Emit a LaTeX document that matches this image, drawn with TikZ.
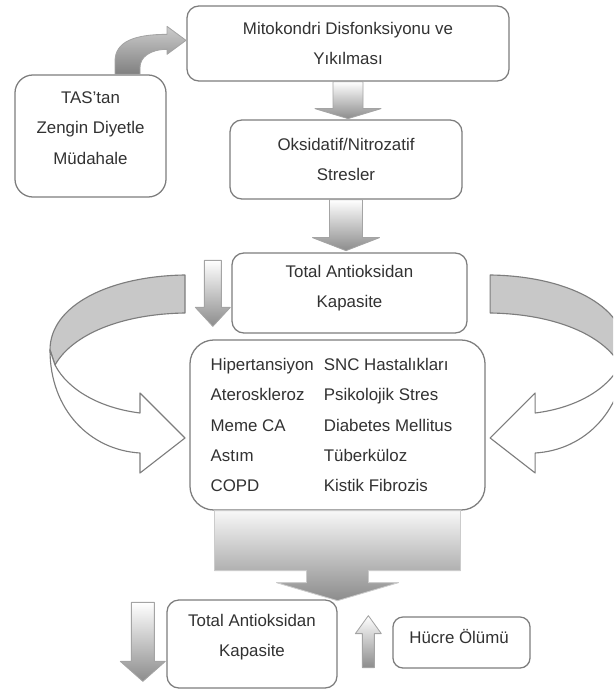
\documentclass[tikz,border=0pt]{standalone}
\usepackage{fontspec}
\setmainfont{Liberation Sans}
\usetikzlibrary{calc}
\definecolor{edgegray}{RGB}{125,125,125}
\definecolor{bandgray}{RGB}{200,200,200}
\definecolor{shadegray}{RGB}{140,140,140}
\definecolor{txtgray}{RGB}{50,50,50}
\tikzstyle{every node}=[font=\fontsize{12}{21.5}\selectfont,text=txtgray]
\tikzstyle{box}=[draw=edgegray,rounded corners=3mm,align=center,fill=white]
\tikzstyle{blockarrow}=[draw=edgegray!70,line width=0.6pt,top color=white,bottom color=shadegray]
\tikzstyle{band}=[draw=edgegray,line width=0.8pt]
\newcommand{\bendband}{%
  \draw[band,fill=bandgray] (185,275) .. controls (110,276) and (50,305) .. (50,350)
    -- (55,365) .. controls (72,335) and (120,314) .. (185,313) -- cycle;
  \draw[band,fill=white] (50,350) .. controls (50,410) and (90,450) .. (140,453)
    -- (140,473) -- (185,438) -- (140,393) -- (140,413)
    .. controls (100,408) and (68,390) .. (55,365) -- cycle;}

\begin{document}
\begin{tikzpicture}[x=0.025cm,y=-0.025cm,line width=0.9pt,line join=round]
  \clip (0,0) rectangle (613,690);
  % curved arrows round the list
  \bendband
  \begin{scope}[xshift=16.875cm,xscale=-1]
    \bendband
  \end{scope}
  % boxes
  \node[box,minimum width=80.5mm,minimum height=18.75mm] (mito) at (348,43.5) {Mitokondri Disfonksiyonu ve\\Yıkılması};
  \node[box,rounded corners=4.5mm,minimum width=37.75mm,minimum height=30.5mm,
    label={[align=center,yshift=2mm]center:TAS'tan\\Zengin Diyetle\\Müdahale}] (tas) at (90.5,136) {};
  \node[box,minimum width=58mm,minimum height=19.75mm] (oks) at (346,159.5) {Oksidatif/Nitrozatif\\Stresler};
  \node[box,minimum width=58.75mm,minimum height=20mm,
    label={[align=center,yshift=1.2mm]center:Total Antioksidan\\Kapasite}] (tac1) at (349.5,293) {};
  \node[box,rounded corners=6mm,minimum width=73.75mm,minimum height=42.5mm] (hast) at (337.5,425)
    {\begin{tabular}{@{}l@{\hspace{2.5mm}}l@{\hspace{3mm}}}
      Hipertansiyon & SNC Hastalıkları\\
      Ateroskleroz & Psikolojik Stres\\
      Meme CA & Diabetes Mellitus\\
      Astım & Tüberküloz\\
      COPD & Kistik Fibrozis
    \end{tabular}};
  \node[box,minimum width=42.5mm,minimum height=22mm,
    label={[align=center,yshift=1.75mm]center:Total Antioksidan\\Kapasite}] (tac2) at (252,644) {};
  \node[box,rounded corners=2.5mm,minimum width=34.25mm,minimum height=12.75mm,
    label={[yshift=1.4mm,xshift=-0.6mm]center:Hücre Ölümü}] (hucre) at (461.5,642.5) {};
  % block arrows
  \draw[blockarrow,top color=black!20,bottom color=black!50] ($(tas.north)+(24.5,0)$) -- ++(0,-13)
    .. controls +(0,-20) and +(-32,0) .. ++(52,-27) -- ++(0,-8) -- ++(19,14) -- ++(-19,14)
    -- ++(0,-5) .. controls +(-17,0) and +(0,-10) .. ++(-27,18) -- ++(0,7) -- cycle;
  \draw[blockarrow] ($(mito.south)+(-15,0)$) -- ++(0,27) -- ++(-18,0) -- ++(33,10)
    -- ++(33,-10) -- ++(-18,0) -- ++(0,-27) -- cycle;
  \draw[blockarrow] ($(oks.south)+(-16.5,0)$) -- ++(0,38) -- ++(-17,0) -- ++(33.5,13)
    -- ++(33.5,-13) -- ++(-17,0) -- ++(0,-38) -- cycle;
  \draw[blockarrow] ($(tac1.north west)+(-27,8)$) -- ++(0,47) -- ++(-9,0) -- ++(17.5,19)
    -- ++(17.5,-19) -- ++(-9,0) -- ++(0,-47) -- cycle;
  \draw[blockarrow,draw=edgegray!40,top color=black!3] ($(hast.south)+(-123,0)$) -- ++(0,60) -- ++(92,0) -- ++(0,12)
    -- ++(-30,0) -- ++(61,18) -- ++(61,-18) -- ++(-30,0) -- ++(0,-12) -- ++(92,0) -- ++(0,-60) -- cycle;
  \draw[blockarrow] ($(tac2.north west)+(-35,3)$) -- ++(0,59) -- ++(-11,0) -- ++(22.5,20)
    -- ++(22.5,-20) -- ++(-11,0) -- ++(0,-59) -- cycle;
  \draw[blockarrow] ($(hucre.south west)+(-30,-1)$) -- ++(0,-34) -- ++(-7,0) -- ++(13,-18)
    -- ++(13,18) -- ++(-7,0) -- ++(0,34) -- cycle;
\end{tikzpicture}
\end{document}
